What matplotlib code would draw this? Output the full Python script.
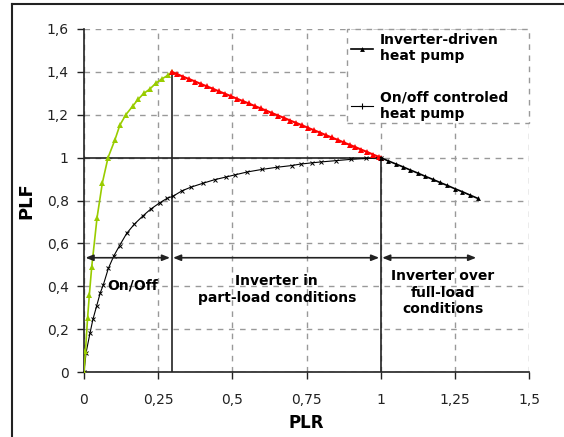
import matplotlib
matplotlib.use("Agg")
import matplotlib.pyplot as plt
from matplotlib.lines import Line2D
from matplotlib.patches import Rectangle

plt.rcParams['font.family'] = ['DejaVu Sans']

# Inverter-driven heat pump, on/off zone (green)
inv_onoff_x = [0, 0.005, 0.012, 0.018, 0.026, 0.044, 0.062, 0.081, 0.104, 0.121, 0.141,
               0.164, 0.183, 0.202, 0.222, 0.242, 0.262, 0.284, 0.295]
inv_onoff_y = [0, 0.10, 0.25, 0.36, 0.49, 0.72, 0.883, 1.0, 1.082, 1.152, 1.20,
               1.24, 1.273, 1.30, 1.32, 1.347, 1.367, 1.385, 1.40]

# Inverter-driven heat pump, part-load zone (red)
inv_part_x = [0.295, 0.315, 0.335, 0.355, 0.375, 0.395, 0.415, 0.435, 0.455, 0.475,
              0.495, 0.515, 0.535, 0.555, 0.575, 0.595, 0.615, 0.635, 0.655, 0.675,
              0.695, 0.715, 0.735, 0.755, 0.775, 0.795, 0.815, 0.835, 0.855, 0.875,
              0.895, 0.915, 0.935, 0.955, 0.975, 0.995, 1.0]
inv_part_y = [1.400, 1.389, 1.377, 1.366, 1.355, 1.343, 1.332, 1.321, 1.309, 1.298,
              1.287, 1.275, 1.264, 1.253, 1.241, 1.230, 1.219, 1.207, 1.196, 1.185,
              1.173, 1.162, 1.151, 1.139, 1.128, 1.117, 1.105, 1.094, 1.083, 1.071,
              1.060, 1.049, 1.037, 1.026, 1.014, 1.003, 1.0]

# Inverter-driven heat pump, over full-load zone (black)
inv_full_x = [1.0, 1.025, 1.05, 1.075, 1.1, 1.125, 1.15, 1.175, 1.2, 1.225, 1.25, 1.275, 1.3, 1.327]
inv_full_y = [1.0, 0.985, 0.971, 0.957, 0.942, 0.928, 0.913, 0.899, 0.884, 0.870, 0.855, 0.841, 0.826, 0.81]

# On/off controlled heat pump
onoff_x = [0, 0.007, 0.02, 0.03, 0.043, 0.055, 0.065, 0.082, 0.1, 0.12, 0.144, 0.17, 0.2,
           0.225, 0.256, 0.28, 0.3, 0.33, 0.36, 0.4, 0.44, 0.48, 0.51, 0.55, 0.6, 0.65,
           0.7, 0.73, 0.77, 0.8, 0.85, 0.9, 0.95, 1.0]
onoff_y = [0, 0.09, 0.18, 0.245, 0.31, 0.37, 0.406, 0.483, 0.54, 0.59, 0.647, 0.69, 0.73,
           0.76, 0.79, 0.81, 0.82, 0.845, 0.862, 0.88, 0.897, 0.91, 0.92, 0.933, 0.945, 0.955,
           0.963, 0.97, 0.976, 0.98, 0.986, 0.992, 0.996, 1.0]

x_ticks = [0, 0.25, 0.5, 0.75, 1.0, 1.25, 1.5]
x_tick_labels = ['0', '0,25', '0,5', '0,75', '1', '1,25', '1,5']
y_ticks = [0, 0.2, 0.4, 0.6, 0.8, 1.0, 1.2, 1.4, 1.6]
y_tick_labels = ['0', '0,2', '0,4', '0,6', '0,8', '1', '1,2', '1,4', '1,6']

zone_bounds = [0, 0.295, 1.0, 1.327]
zone_arrow_y = 0.533

fig = plt.figure(figsize=(5.64, 4.37), dpi=100)
ax = fig.add_axes([84/564, 1-372/437, (529-84)/564, (372-29)/437])

ax.set_xlim(0, 1.5)
ax.set_ylim(0, 1.6)
ax.set_xticks(x_ticks)
ax.set_xticklabels(x_tick_labels)
ax.set_yticks(y_ticks)
ax.set_yticklabels(y_tick_labels)
ax.tick_params(labelsize=10, length=5, width=1, colors='#222222')
ax.tick_params(axis='x', pad=10)
ax.tick_params(axis='y', pad=6)
ax.grid(True, linestyle=(0, (4, 4)), color='#999999', linewidth=1)
for s in ['top', 'right']:
    ax.spines[s].set_visible(False)
for s in ['left', 'bottom']:
    ax.spines[s].set_color('#222222')
    ax.spines[s].set_linewidth(1.2)

# structural lines
ax.plot([0, 1.0], [1.0, 1.0], color='#222222', lw=1.2, zorder=2)
ax.plot([zone_bounds[1], zone_bounds[1]], [0, 1.4], color='#222222', lw=1.2, zorder=2)
ax.plot([1.0, 1.0], [0, 1.0], color='#222222', lw=1.2, zorder=2)

# curves
ax.plot(onoff_x, onoff_y, color='black', lw=0.8, marker='x', ms=3, mew=0.7, zorder=4)
ax.plot(inv_onoff_x, inv_onoff_y, color='#99cc00', lw=1.2, marker='^', ms=4, mew=0, zorder=5)
ax.plot(inv_part_x, inv_part_y, color='#ff0000', lw=1.5, marker='^', ms=4, mew=0, zorder=5)
ax.plot(inv_full_x, inv_full_y, color='black', lw=1.2, marker='^', ms=3.5, mew=0, zorder=5)

# zone arrows
for a, b in zip(zone_bounds[:-1], zone_bounds[1:]):
    ax.annotate('', xy=(b - 0.005, zone_arrow_y), xytext=(a + 0.005, zone_arrow_y),
                arrowprops=dict(arrowstyle='<|-|>,head_length=0.45,head_width=0.18',
                                color='#222222', lw=1.2, shrinkA=0, shrinkB=0), zorder=6)

ax.text(0.165, 0.405, 'On/Off', ha='center', va='center', fontsize=10, fontweight='bold')
ax.text(0.65, 0.385, 'Inverter in\npart-load conditions', ha='center', va='center',
        fontsize=10, fontweight='bold', linespacing=1.25)
ax.text(1.21, 0.37, 'Inverter over\nfull-load\nconditions', ha='center', va='center',
        fontsize=10, fontweight='bold', linespacing=1.25)

ax.set_xlabel('PLR', fontsize=12, fontweight='bold', labelpad=5)
ax.set_ylabel('PLF', fontsize=13, fontweight='bold', labelpad=8)

# legend box (white, dashed grey frame)
lx0 = (347-84)/445
ly0 = (372-123)/343
ax.add_patch(Rectangle((lx0, ly0), 1-lx0, 1-ly0, transform=ax.transAxes,
                       facecolor='white', edgecolor='#999999', lw=1,
                       linestyle=(0, (4, 4)), zorder=7, clip_on=False))

h1 = Line2D([], [], color='black', lw=1.2, marker='^', ms=3.5, mew=0)
h2 = Line2D([], [], color='black', lw=0.8, marker='+', ms=4, mew=0.8)
leg = ax.legend([h1, h2], ['Inverter-driven\nheat pump', 'On/off controled\nheat pump'],
                loc='upper left', bbox_to_anchor=(lx0, 1.0), prop={'weight': 'bold', 'size': 10},
                frameon=False, handlelength=1.6, handletextpad=0.45, labelspacing=1.95,
                borderpad=0.25, borderaxespad=0.05)
leg.set_zorder(8)

# figure border (left and top visible)
fig.add_artist(Line2D([12/564, 12/564], [0, 1-4/437], color='#222222', lw=1.5,
                      transform=fig.transFigure))
fig.add_artist(Line2D([12/564, 1], [1-4/437, 1-4/437], color='#222222', lw=1.5,
                      transform=fig.transFigure))

fig.savefig('out.png', dpi=100)
